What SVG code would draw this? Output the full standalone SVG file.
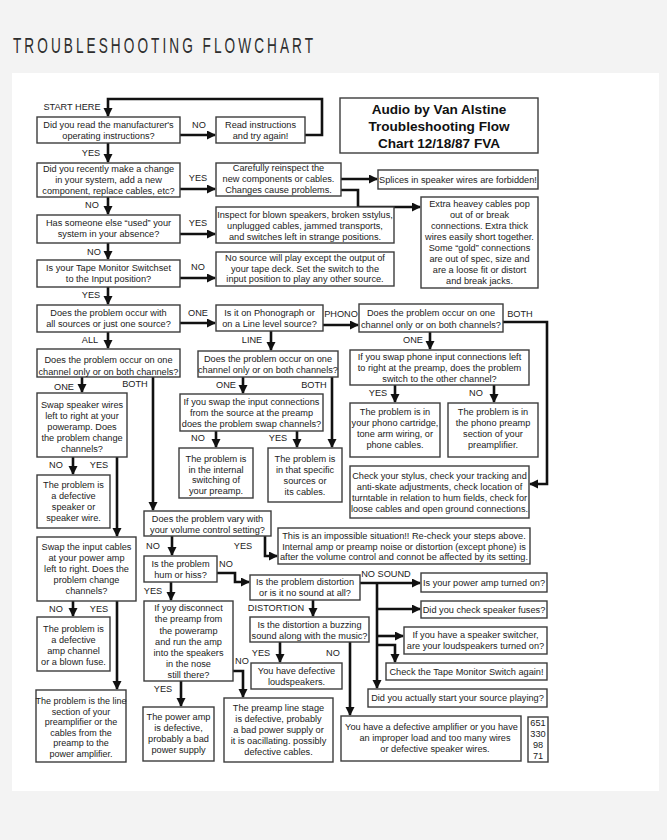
<svg xmlns="http://www.w3.org/2000/svg" width="667" height="840" viewBox="0 0 667 840">
<defs>
<style>
.bg{fill:#f3f3f3}
.panel{fill:#ffffff}
.box{fill:#ffffff;stroke:#3c3c3c;stroke-width:1.4}
.t{font-family:"Liberation Sans",Arial,sans-serif;font-size:9.2px;fill:#222;text-anchor:middle;dominant-baseline:central}
.l{font-family:"Liberation Sans",Arial,sans-serif;font-size:9.2px;fill:#222;text-anchor:middle;dominant-baseline:central}
.ttl{font-family:"Liberation Sans",Arial,sans-serif;font-size:13.6px;font-weight:bold;fill:#111;text-anchor:middle;dominant-baseline:central}
.head{font-family:"Liberation Sans",Arial,sans-serif;font-size:22px;fill:#2e2e2e}
.c{fill:none;stroke:#111;stroke-width:2.6;marker-end:url(#ah)}
</style>
<marker id="ah" markerUnits="userSpaceOnUse" markerWidth="10" markerHeight="10" refX="8" refY="4.5" orient="auto">
<path d="M0,0 L9,4.5 L0,9 z" fill="#111"/>
</marker>
</defs>
<rect class="bg" x="0" y="0" width="667" height="840"/>
<rect class="panel" x="12" y="73" width="647" height="718"/>
<text class="head" transform="translate(13,53) scale(0.62,1)" x="0" y="0" textLength="484" lengthAdjust="spacing">TROUBLESHOOTING FLOWCHART</text>

<g id="connectors">
<path class="c" d="M305,135 H322 V99 H108 V116"/>
<path class="c" d="M180,135 H215"/>
<path class="c" d="M108,143 V162"/>
<path class="c" d="M180,189 H215"/>
<path class="c" d="M341,179 H377"/>
<path class="c" d="M341,190 H358 V207 H420"/>
<path class="c" d="M108,197 V214"/>
<path class="c" d="M180,234 H215"/>
<path class="c" d="M108,243 V259"/>
<path class="c" d="M180,278 H215"/>
<path class="c" d="M108,287 V304"/>
<path class="c" d="M180,323 H215"/>
<path class="c" d="M323,325 H358"/>
<path class="c" d="M503,322 H547 V484 H530"/>
<path class="c" d="M430,332 V349"/>
<path class="c" d="M395,385 V402"/>
<path class="c" d="M494,385 V402"/>
<path class="c" d="M108,332 V348"/>
<path class="c" d="M271,331 V350"/>
<path class="c" d="M82,377 V392"/>
<path class="c" d="M153,377 V510"/>
<path class="c" d="M243,377 V393"/>
<path class="c" d="M332,377 V447"/>
<path class="c" d="M216,431 V447"/>
<path class="c" d="M297,431 V447"/>
<path class="c" d="M73,457 V474"/>
<path class="c" d="M117,457 V536"/>
<path class="c" d="M73,601 V616"/>
<path class="c" d="M117,601 V689"/>
<path class="c" d="M172,536 V555"/>
<path class="c" d="M265,536 V556 H277"/>
<path class="c" d="M217,573 H235 V582 H249"/>
<path class="c" d="M360,583 H420"/>
<path class="c" d="M377,583 V688"/>
<path class="c" d="M377,609 H420"/>
<path class="c" d="M377,636 H403"/>
<path class="c" d="M377,645 H395 V662"/>
<path class="c" d="M313,600 V616"/>
<path class="c" d="M280,642 V662"/>
<path class="c" d="M350,642 V715"/>
<path class="c" d="M171,582 V600"/>
<path class="c" d="M181,681 V706"/>
<path class="c" d="M233,671 H243 V697"/>
</g>

<g id="edge-labels">
<text class="l" x="72" y="107">START HERE</text>
<text class="l" x="199" y="125">NO</text>
<text class="l" x="91" y="153">YES</text>
<text class="l" x="198" y="178">YES</text>
<text class="l" x="92" y="205">NO</text>
<text class="l" x="198" y="223">YES</text>
<text class="l" x="94" y="252">NO</text>
<text class="l" x="198" y="267">NO</text>
<text class="l" x="91" y="295">YES</text>
<text class="l" x="198" y="313">ONE</text>
<text class="l" x="341" y="314">PHONO</text>
<text class="l" x="520" y="314">BOTH</text>
<text class="l" x="413" y="340">ONE</text>
<text class="l" x="378" y="393">YES</text>
<text class="l" x="476" y="393">NO</text>
<text class="l" x="90" y="340">ALL</text>
<text class="l" x="252" y="340">LINE</text>
<text class="l" x="64" y="387">ONE</text>
<text class="l" x="135" y="384">BOTH</text>
<text class="l" x="226" y="385">ONE</text>
<text class="l" x="314" y="385">BOTH</text>
<text class="l" x="198" y="438">NO</text>
<text class="l" x="278" y="438">YES</text>
<text class="l" x="56" y="465">NO</text>
<text class="l" x="99" y="465">YES</text>
<text class="l" x="56" y="609">NO</text>
<text class="l" x="99" y="609">YES</text>
<text class="l" x="153" y="546">NO</text>
<text class="l" x="243" y="546">YES</text>
<text class="l" x="226" y="564">NO</text>
<text class="l" x="386" y="574">NO SOUND</text>
<text class="l" x="276" y="608">DISTORTION</text>
<text class="l" x="261" y="653">YES</text>
<text class="l" x="333" y="653">NO</text>
<text class="l" x="153" y="591">YES</text>
<text class="l" x="163" y="689">YES</text>
<text class="l" x="242" y="661">NO</text>
</g>

<g id="title"><rect class="box" x="340" y="98" width="198" height="55"/>
<text class="ttl"><tspan x="439" y="109">Audio by Van Alstine</tspan><tspan x="439" y="126">Troubleshooting Flow</tspan><tspan x="439" y="143">Chart 12/18/87 FVA</tspan></text></g>

<g id="n1"><rect class="box" x="37" y="117" width="143" height="26"/>
<text class="t"><tspan x="108.5" y="125">Did you read the manufacturer's</tspan><tspan x="108.5" y="136">operating instructions?</tspan></text></g>

<g id="n2"><rect class="box" x="216" y="117" width="89" height="26"/>
<text class="t"><tspan x="260.5" y="125">Read instructions</tspan><tspan x="260.5" y="136">and try again!</tspan></text></g>

<g id="n3"><rect class="box" x="37" y="163" width="143" height="34"/>
<text class="t"><tspan x="108.5" y="168.5">Did you recently make a change</tspan><tspan x="108.5" y="179.5">in your system, add a new</tspan><tspan x="108.5" y="190.5">component, replace cables, etc?</tspan></text></g>

<g id="n4"><rect class="box" x="216" y="163" width="125" height="33"/>
<text class="t"><tspan x="278.5" y="167.5">Carefully reinspect the</tspan><tspan x="278.5" y="178.5">new components or cables.</tspan><tspan x="278.5" y="189.5">Changes cause problems.</tspan></text></g>

<g id="n5"><rect class="box" x="378" y="170" width="160" height="19"/>
<text class="t"><tspan x="458" y="179.5">Splices in speaker wires are forbidden!</tspan></text></g>

<g id="n6"><rect class="box" x="421" y="197" width="117" height="91"/>
<text class="t"><tspan x="479.5" y="204">Extra heavey cables pop</tspan><tspan x="479.5" y="215">out of or break</tspan><tspan x="479.5" y="226">connections. Extra thick</tspan><tspan x="479.5" y="237">wires easily short together.</tspan><tspan x="479.5" y="248">Some “gold” connections</tspan><tspan x="479.5" y="259">are out of spec, size and</tspan><tspan x="479.5" y="270">are a loose fit or distort</tspan><tspan x="479.5" y="281">and break jacks.</tspan></text></g>

<g id="n8"><rect class="box" x="37" y="215" width="143" height="28"/>
<text class="t"><tspan x="108.5" y="223">Has someone else “used” your</tspan><tspan x="108.5" y="234">system in your absence?</tspan></text></g>

<g id="n9"><rect class="box" x="216" y="207" width="178" height="36"/>
<text class="t"><tspan x="305" y="215">Inspect for blown speakers, broken sstylus,</tspan><tspan x="305" y="226">unplugged cables, jammed transports,</tspan><tspan x="305" y="237">and switches left in strange positions.</tspan></text></g>

<g id="n10"><rect class="box" x="37" y="260" width="143" height="27"/>
<text class="t"><tspan x="108.5" y="268">Is your Tape Monitor Switchset</tspan><tspan x="108.5" y="279">to the Input position?</tspan></text></g>

<g id="n11"><rect class="box" x="216" y="252" width="178" height="34"/>
<text class="t"><tspan x="305" y="258">No source will play except the output of</tspan><tspan x="305" y="268.5">your tape deck. Set the switch to the</tspan><tspan x="305" y="279">input position to play any other source.</tspan></text></g>

<g id="n12"><rect class="box" x="37" y="305" width="143" height="27"/>
<text class="t"><tspan x="108.5" y="313">Does the problem occur with</tspan><tspan x="108.5" y="324">all sources or just one source?</tspan></text></g>

<g id="n13"><rect class="box" x="216" y="305" width="107" height="26"/>
<text class="t"><tspan x="269.5" y="313">Is it on Phonograph or</tspan><tspan x="269.5" y="324">on a Line level source?</tspan></text></g>

<g id="n14"><rect class="box" x="359" y="304" width="144" height="28"/>
<text class="t"><tspan x="431" y="313">Does the problem occur on one</tspan><tspan x="431" y="325">channel only or on both channels?</tspan></text></g>

<g id="n15"><rect class="box" x="37" y="349" width="143" height="28"/>
<text class="t"><tspan x="108.5" y="360">Does the problem occur on one</tspan><tspan x="108.5" y="371.5">channel only or on both channels?</tspan></text></g>

<g id="n16"><rect class="box" x="198" y="351" width="140" height="26"/>
<text class="t"><tspan x="268" y="358.5">Does the problem occur on one</tspan><tspan x="268" y="370">channel only or on both channels?</tspan></text></g>

<g id="n17"><rect class="box" x="350" y="350" width="179" height="35"/>
<text class="t"><tspan x="439.5" y="357">If you swap phone input connections left</tspan><tspan x="439.5" y="368">to right at the preamp, does the problem</tspan><tspan x="439.5" y="379">switch to the other channel?</tspan></text></g>

<g id="n18"><rect class="box" x="37" y="393" width="90" height="64"/>
<text class="t"><tspan x="82" y="405">Swap speaker wires</tspan><tspan x="82" y="416">left to right at your</tspan><tspan x="82" y="427">poweramp. Does</tspan><tspan x="82" y="438">the problem change</tspan><tspan x="82" y="449">channels?</tspan></text></g>

<g id="n19"><rect class="box" x="180" y="394" width="143" height="37"/>
<text class="t"><tspan x="251.5" y="402">If you swap the input connections</tspan><tspan x="251.5" y="413">from the source at the preamp</tspan><tspan x="251.5" y="424">does the problem swap channels?</tspan></text></g>

<g id="n20"><rect class="box" x="350" y="403" width="90" height="54"/>
<text class="t"><tspan x="395" y="412">The problem is in</tspan><tspan x="395" y="423">your phono cartridge,</tspan><tspan x="395" y="434">tone arm wiring, or</tspan><tspan x="395" y="445">phone cables.</tspan></text></g>

<g id="n21"><rect class="box" x="448" y="403" width="90" height="54"/>
<text class="t"><tspan x="493" y="412">The problem is in</tspan><tspan x="493" y="423">the phono preamp</tspan><tspan x="493" y="434">section of your</tspan><tspan x="493" y="445">preamplifier.</tspan></text></g>

<g id="n22"><rect class="box" x="179" y="448" width="74" height="50"/>
<text class="t"><tspan x="216" y="459">The problem is</tspan><tspan x="216" y="469.5">in the internal</tspan><tspan x="216" y="480">switching of</tspan><tspan x="216" y="491">your preamp.</tspan></text></g>

<g id="n23"><rect class="box" x="268" y="448" width="74" height="54"/>
<text class="t"><tspan x="305" y="459">The problem is</tspan><tspan x="305" y="470">in that specific</tspan><tspan x="305" y="481">sources or</tspan><tspan x="305" y="492">its cables.</tspan></text></g>

<g id="n24"><rect class="box" x="350" y="466" width="179" height="52"/>
<text class="t"><tspan x="439.5" y="476">Check your stylus, check your tracking and</tspan><tspan x="439.5" y="487">anti-skate adjustments, check location of</tspan><tspan x="439.5" y="498">turntable in relation to hum fields, check for</tspan><tspan x="439.5" y="509">loose cables and open ground connections.</tspan></text></g>

<g id="n25"><rect class="box" x="37" y="475" width="73" height="53"/>
<text class="t"><tspan x="73.5" y="485">The problem is</tspan><tspan x="73.5" y="496">a defective</tspan><tspan x="73.5" y="507">speaker or</tspan><tspan x="73.5" y="518">speaker wire.</tspan></text></g>

<g id="n26"><rect class="box" x="37" y="537" width="99" height="64"/>
<text class="t"><tspan x="86.5" y="547">Swap the input cables</tspan><tspan x="86.5" y="558">at your power amp</tspan><tspan x="86.5" y="569">left to right. Does the</tspan><tspan x="86.5" y="580">problem change</tspan><tspan x="86.5" y="591">channels?</tspan></text></g>

<g id="n27"><rect class="box" x="144" y="511" width="127" height="25"/>
<text class="t"><tspan x="207.5" y="518.5">Does the problem vary with</tspan><tspan x="207.5" y="530">your volume control setting?</tspan></text></g>

<g id="n28"><rect class="box" x="278" y="528" width="252" height="36"/>
<text class="t"><tspan x="404" y="536">This is an impossible situation!! Re-check your steps above.</tspan><tspan x="404" y="546.5">Internal amp or preamp noise or distortion (except phone) is</tspan><tspan x="404" y="557">after the volume control and connot be affected by its setting.</tspan></text></g>

<g id="n29"><rect class="box" x="144" y="556" width="73" height="26"/>
<text class="t"><tspan x="180.5" y="564">Is the problem</tspan><tspan x="180.5" y="575">hum or hiss?</tspan></text></g>

<g id="n30"><rect class="box" x="250" y="575" width="110" height="25"/>
<text class="t"><tspan x="305" y="582">Is the problem distortion</tspan><tspan x="305" y="593">or is it no sound at all?</tspan></text></g>

<g id="n31"><rect class="box" x="421" y="573" width="126" height="19"/>
<text class="t"><tspan x="484" y="582.5">Is your power amp turned on?</tspan></text></g>

<g id="n32"><rect class="box" x="421" y="601" width="126" height="17"/>
<text class="t"><tspan x="484" y="609.5">Did you check speaker fuses?</tspan></text></g>

<g id="n33"><rect class="box" x="404" y="627" width="143" height="27"/>
<text class="t"><tspan x="475.5" y="634.5">If you have a speaker switcher,</tspan><tspan x="475.5" y="645.5">are your loudspeakers turned on?</tspan></text></g>

<g id="n34"><rect class="box" x="386" y="663" width="161" height="17"/>
<text class="t"><tspan x="466.5" y="671.5">Check the Tape Monitor Switch again!</tspan></text></g>

<g id="n35"><rect class="box" x="368" y="689" width="179" height="18"/>
<text class="t"><tspan x="457.5" y="698">Did you actually start your source playing?</tspan></text></g>

<g id="n36"><rect class="box" x="250" y="617" width="119" height="25"/>
<text class="t"><tspan x="309.5" y="625">Is the distortion a buzzing</tspan><tspan x="309.5" y="636">sound along with the music?</tspan></text></g>

<g id="n37"><rect class="box" x="251" y="663" width="91" height="26"/>
<text class="t"><tspan x="296.5" y="671">You have defective</tspan><tspan x="296.5" y="682">loudspeakers.</tspan></text></g>

<g id="n38"><rect class="box" x="341" y="716" width="180" height="45"/>
<text class="t"><tspan x="431.5" y="727">You have a defective amplifier or you have</tspan><tspan x="435" y="738">an improper load and too many wires</tspan><tspan x="435" y="749">or defective speaker wires.</tspan></text></g>

<g id="n39"><rect class="box" x="528" y="717" width="20" height="45"/>
<text class="t"><tspan x="538" y="723">651</tspan><tspan x="538" y="734">330</tspan><tspan x="538" y="745">98</tspan><tspan x="538" y="756">71</tspan></text></g>

<g id="n40"><rect class="box" x="37" y="617" width="73" height="54"/>
<text class="t"><tspan x="73.5" y="629">The problem is</tspan><tspan x="73.5" y="640">a defective</tspan><tspan x="73.5" y="651">amp channel</tspan><tspan x="73.5" y="662">or a blown fuse.</tspan></text></g>

<g id="n41"><rect class="box" x="36" y="690" width="90" height="72"/>
<text class="t" style="font-size:9px"><tspan x="81" y="701">The problem is the line</tspan><tspan x="81" y="711.5">section of your</tspan><tspan x="81" y="722">preamplifier or the</tspan><tspan x="81" y="732.5">cables from the</tspan><tspan x="81" y="743">preamp to the</tspan><tspan x="81" y="753.5">power amplifier.</tspan></text></g>

<g id="n42"><rect class="box" x="144" y="601" width="89" height="80"/>
<text class="t"><tspan x="188.5" y="608">If yoy disconnect</tspan><tspan x="188.5" y="619">the preamp from</tspan><tspan x="188.5" y="630.5">the poweramp</tspan><tspan x="188.5" y="641.5">and run the amp</tspan><tspan x="188.5" y="652.5">into the speakers</tspan><tspan x="188.5" y="663.5">in the nose</tspan><tspan x="188.5" y="674.5">still there?</tspan></text></g>

<g id="n43"><rect class="box" x="143" y="707" width="71" height="54"/>
<text class="t"><tspan x="178.5" y="717">The power amp</tspan><tspan x="178.5" y="728">is defective,</tspan><tspan x="178.5" y="739">probably a bad</tspan><tspan x="178.5" y="750">power supply</tspan></text></g>

<g id="n44"><rect class="box" x="224" y="698" width="109" height="64"/>
<text class="t"><tspan x="278.5" y="708">The preamp line stage</tspan><tspan x="278.5" y="719">is defective, probably</tspan><tspan x="278.5" y="730">a bad power supply or</tspan><tspan x="278.5" y="741">it is oacillating. possibly</tspan><tspan x="278.5" y="752">defective cables.</tspan></text></g>
</svg>
